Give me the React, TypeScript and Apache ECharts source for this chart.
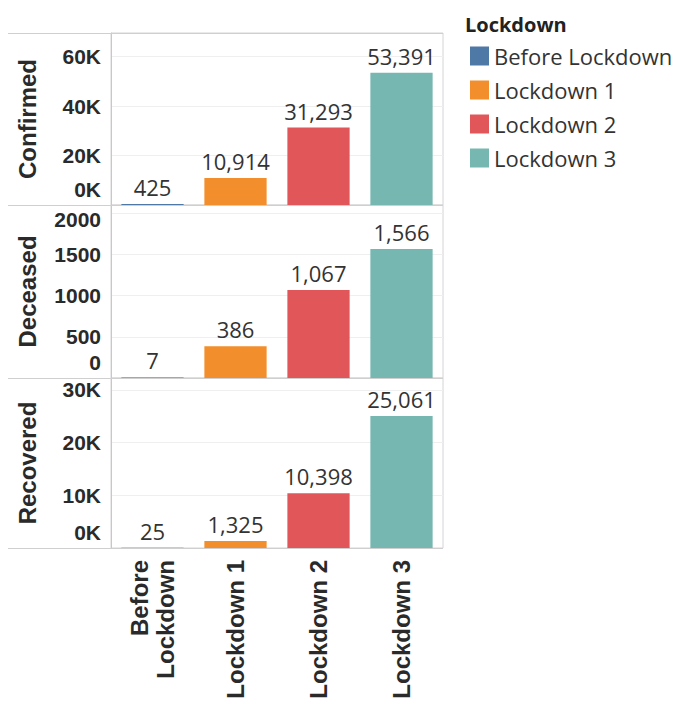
import React, { useEffect, useRef } from "react";
import * as echarts from "echarts";

const categories = ["Before Lockdown", "Lockdown 1", "Lockdown 2", "Lockdown 3"];
const colors = ["#4e79a7", "#f28e2b", "#e15759", "#76b7b2"];
const measures = ["Confirmed", "Deceased", "Recovered"];
const confirmed = [425, 10914, 31293, 53391];
const deceased = [7, 386, 1067, 1566];
const recovered = [25, 1325, 10398, 25061];
const axisMax = [69500, 2100, 32250];
const axisInterval = [20000, 500, 10000];
const useK = [true, false, true];

const values = [confirmed, deceased, recovered];

const GRIDS = [
  { top: 33, height: 172 },
  { top: 205, height: 173 },
  { top: 378, height: 170 },
];
const LEFT = 111;
const RIGHT_X = 443;

const tickFont = { fontFamily: "Liberation Sans", fontWeight: "bold" as const, fontSize: 21, color: "#2a2a2a" };

export default function App() {
  const ref = useRef<HTMLDivElement>(null);
  useEffect(() => {
    if (!ref.current) return;
    const chart = echarts.init(ref.current, undefined, { renderer: "svg" });

    const grid = GRIDS.map((g) => ({
      left: LEFT,
      width: RIGHT_X - LEFT,
      top: g.top,
      height: g.height,
      show: true,
      borderColor: "#d4d4d4",
      borderWidth: 1,
      containLabel: false,
    }));

    const xAxis = GRIDS.map((_, gi) => ({
      type: "category",
      gridIndex: gi,
      data: categories,
      axisLine: { show: false },
      axisTick: { show: false },
      axisLabel:
        gi === GRIDS.length - 1
          ? {
              show: true,
              rotate: 90,
              margin: 12,
              ...tickFont,
              fontSize: 24,
              lineHeight: 26,
              formatter: (v: string) => (v.length > 12 ? v.replace(" ", "\n") : v),
            }
          : { show: false },
    }));

    const yAxis = GRIDS.map((_, gi) => ({
      type: "value",
      gridIndex: gi,
      min: 0,
      max: axisMax[gi],
      interval: axisInterval[gi],
      name: measures[gi],
      nameLocation: "middle",
      nameGap: 72,
      nameRotate: 90,
      nameTextStyle: { ...tickFont, fontSize: 24 },
      axisLine: { show: true, lineStyle: { color: "#c8c8c8" } },
      axisTick: { show: false },
      splitLine: { show: true, lineStyle: { color: "#efefef" } },
      axisLabel: {
        showMaxLabel: false,
        margin: 10,
        ...tickFont,
        formatter: (v: number) => {
          const t = useK[gi] ? `${v / 1000}K` : `${v}`;
          if (v === 0) return `{lo|${t}}`;
          if (!useK[gi] && v === 2000) return `{hi|${t}}`;
          return t;
        },
        rich: {
          lo: { ...tickFont, padding: [0, 0, 32, 0] },
          hi: { ...tickFont, padding: [12, 0, 0, 0] },
        },
      },
    }));

    const series: any[] = [];
    GRIDS.forEach((_, gi) => {
      categories.forEach((cat, ci) => {
        series.push({
          type: "bar",
          name: cat,
          xAxisIndex: gi,
          yAxisIndex: gi,
          barWidth: "75%",
          barGap: "-100%",
          itemStyle: { color: colors[ci] },
          data: values[gi].map((v, i) => (i === ci ? v : "-")),
          label: {
            show: true,
            position: "top",
            distance: 6,
            fontFamily: "Open Sans",
            fontSize: 22,
            color: "#333",
            formatter: (p: any) => Number(p.value).toLocaleString("en-US"),
          },
        });
      });
    });

    const sepYs = [GRIDS[0].top, ...GRIDS.map((g) => g.top + g.height)];

    chart.setOption({
      animation: false,
      title: {
        text: "Lockdown",
        left: 460,
        top: 9,
        textStyle: { fontFamily: "Open Sans", fontWeight: "bold", fontSize: 20, color: "#222" },
      },
      legend: {
        data: categories,
        orient: "vertical",
        left: 465,
        top: 40,
        itemWidth: 19,
        itemHeight: 19,
        itemGap: 12,
        icon: "rect",
        selectedMode: false,
        textStyle: { fontFamily: "Open Sans", fontSize: 22, color: "#333" },
      },
      grid,
      xAxis,
      yAxis,
      series,
      graphic: sepYs.map((y) => ({
        type: "line",
        shape: { x1: 8, y1: y + 0.5, x2: RIGHT_X, y2: y + 0.5 },
        style: { stroke: "#cfcfcf", lineWidth: 1 },
        z: 10,
      })),
    });

    return () => chart.dispose();
  }, []);

  return (
    <div
      ref={ref}
      style={{ position: "fixed", left: 0, top: 0, width: 673, height: 702, background: "#fff" }}
    />
  );
}
